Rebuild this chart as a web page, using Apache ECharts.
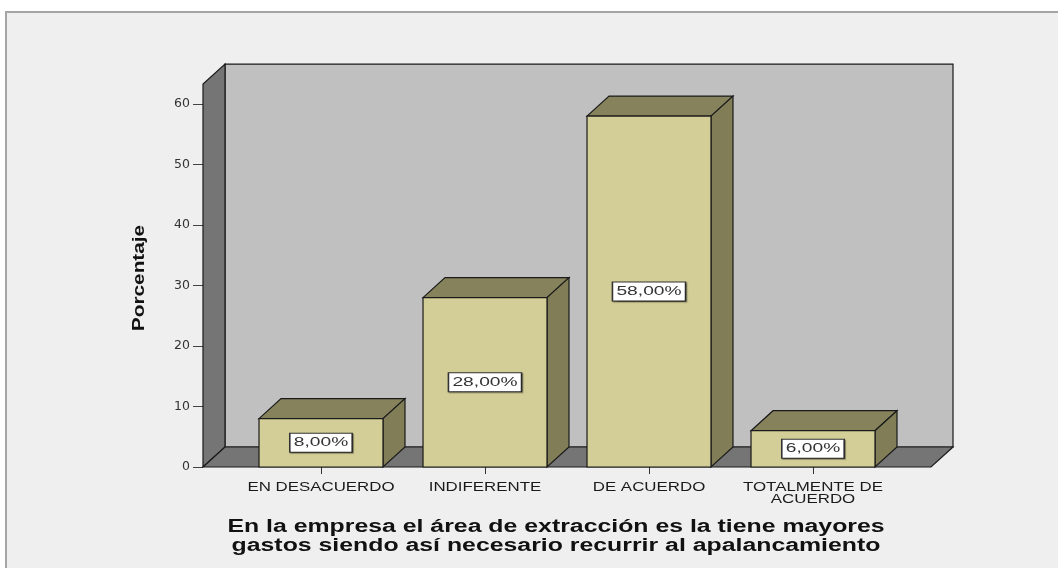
<!DOCTYPE html>
<html><head><meta charset="utf-8">
<script src="https://cdn.jsdelivr.net/npm/echarts@6/dist/echarts.min.js"></script>
<style>html,body{margin:0;padding:0;background:#fff}#c{width:1058px;height:568px}</style>
</head><body><div id="c"></div>
<script>
// ---- data ----
const categories = ['EN DESACUERDO', 'INDIFERENTE', 'DE ACUERDO', 'TOTALMENTE DE\nACUERDO'];
const percentValues = [8, 28, 58, 6];
const valueLabels = ['8,00%', '28,00%', '58,00%', '6,00%'];
const yTickValues = [0, 10, 20, 30, 40, 50, 60];
const yAxisTitle = 'Porcentaje';
const xAxisTitle = 'En la empresa el área de extracción es la tiene mayores\ngastos siendo así necesario recurrir al apalancamiento';

// ---- style / layout constants ----
const DX = 22, DY = 20;          // 3D depth offset
const WALL_PAD = 36;             // walls extend beyond the category band
const WALL_TOP = 63.3;           // value at top of side wall
const BAR_RATIO = 0.756;
const TEXT_STRETCH = 1.25;       // reference fonts are horizontally extended
const C = {
  back: '#c0c0c0', wall: '#757575', front: '#d3ce97', top: '#86825c', side: '#817d57', line: '#1a1a1a'
};

const chart = echarts.init(document.getElementById('c'), null, { renderer: 'canvas' });

const option = {
  backgroundColor: '#ffffff',
  animation: false,
  graphic: [
    {
      type: 'rect', z: -10, silent: true,
      shape: { x: 6, y: 12, width: 1100, height: 600 },
      style: { fill: '#efefef', stroke: '#a5a5a5', lineWidth: 2 }
    },
    {
      type: 'text', silent: true, z: 5,
      x: 556, y: 518, scaleX: 1.38,
      style: {
        text: xAxisTitle, align: 'center', verticalAlign: 'top',
        font: 'bold 18px "Liberation Sans", Arial', lineHeight: 19, fill: '#111'
      }
    },
    {
      type: 'text', silent: true, z: 5,
      x: 140, y: 278, rotation: Math.PI / 2, scaleX: 1.3,
      style: {
        text: yAxisTitle, align: 'center', verticalAlign: 'middle',
        font: 'bold 16px "Liberation Sans", Arial', fill: '#111'
      }
    }
  ],
  grid: { left: 239, right: 163, top: 104, bottom: 101, containLabel: false },
  xAxis: {
    type: 'category', data: categories,
    axisLine: { show: false },
    axisTick: { show: true, alignWithLabel: true, length: 7, lineStyle: { color: '#333' } },
    axisLabel: { show: false },
    splitLine: { show: false }
  },
  yAxis: {
    type: 'value', min: 0, max: 60, interval: 10, offset: 36,
    axisLine: { show: false },
    axisTick: { show: true, length: 10, lineStyle: { color: '#444' } },
    axisLabel: {
      margin: 13, fontFamily: 'DejaVu Sans', fontSize: 12.5, color: '#333',
      formatter: v => (yTickValues.indexOf(v) >= 0 ? String(v) : '')
    },
    splitLine: { show: false }
  },
  series: [
    {
      type: 'custom', z: 1, silent: true,
      data: [[0, 0]],
      renderItem: function (params, api) {
        const cs = params.coordSys;
        const xl = cs.x - WALL_PAD, xr = cs.x + cs.width + WALL_PAD;
        const y0 = api.coord([0, 0])[1];
        const yt = api.coord([0, WALL_TOP])[1];
        const ls = { stroke: C.line, lineWidth: 1.2 };
        return {
          type: 'group', children: [
            { type: 'polygon', shape: { points: [[xl + DX, yt - DY], [xr + DX, yt - DY], [xr + DX, y0 - DY], [xl + DX, y0 - DY]] }, style: Object.assign({ fill: C.back }, ls) },
            { type: 'polygon', shape: { points: [[xl, y0], [xl, yt], [xl + DX, yt - DY], [xl + DX, y0 - DY]] }, style: Object.assign({ fill: C.wall }, ls) },
            { type: 'polygon', shape: { points: [[xl, y0], [xr, y0], [xr + DX, y0 - DY], [xl + DX, y0 - DY]] }, style: Object.assign({ fill: C.wall }, ls) }
          ]
        };
      }
    },
    {
      type: 'custom', z: 2,
      encode: { x: 0, y: 1 },
      data: percentValues.map((v, i) => [i, v]),
      renderItem: function (params, api) {
        const idx = api.value(0), val = api.value(1);
        const p = api.coord([idx, val]);
        const b = api.coord([idx, 0]);
        const bw = api.size([1, 0])[0] * BAR_RATIO;
        const xl = p[0] - bw / 2, xr = p[0] + bw / 2, yt = p[1], yb = b[1];
        const ls = { stroke: C.line, lineWidth: 1.2 };
        return {
          type: 'group', children: [
            { type: 'polygon', shape: { points: [[xl, yt], [xl + DX, yt - DY], [xr + DX, yt - DY], [xr, yt]] }, style: Object.assign({ fill: C.top }, ls) },
            { type: 'polygon', shape: { points: [[xr, yt], [xr + DX, yt - DY], [xr + DX, yb - DY], [xr, yb]] }, style: Object.assign({ fill: C.side }, ls) },
            { type: 'rect', shape: { x: xl, y: yt, width: bw, height: yb - yt }, style: Object.assign({ fill: C.front }, ls) },
            {
              type: 'text', z2: 10,
              x: p[0], y: (yt + yb) / 2, scaleX: 1.6,
              style: {
                text: valueLabels[params.dataIndex],
                align: 'center', verticalAlign: 'middle',
                font: '12px "Liberation Sans", Arial', fill: '#333',
                backgroundColor: '#ffffff', borderColor: '#333', borderWidth: 1,
                padding: [3, 2, 3, 2],
                shadowColor: 'rgba(0,0,0,0.35)', shadowOffsetX: 1, shadowOffsetY: 1, shadowBlur: 1
              }
            }
          ]
        };
      }
    },
    {
      // category labels, placed on the category axis
      type: 'custom', z: 3, silent: true,
      encode: { x: 0, y: 1 },
      data: categories.map((c, i) => [i, 0]),
      renderItem: function (params, api) {
        const p = api.coord([api.value(0), 0]);
        return {
          type: 'text', x: p[0], y: p[1] + 14, scaleX: TEXT_STRETCH,
          style: {
            text: categories[params.dataIndex], align: 'center', verticalAlign: 'top',
            font: '13.5px "Liberation Sans", Arial', lineHeight: 12, fill: '#1a1a1a'
          }
        };
      }
    }
  ]
};
chart.setOption(option);
</script>
</body></html>
